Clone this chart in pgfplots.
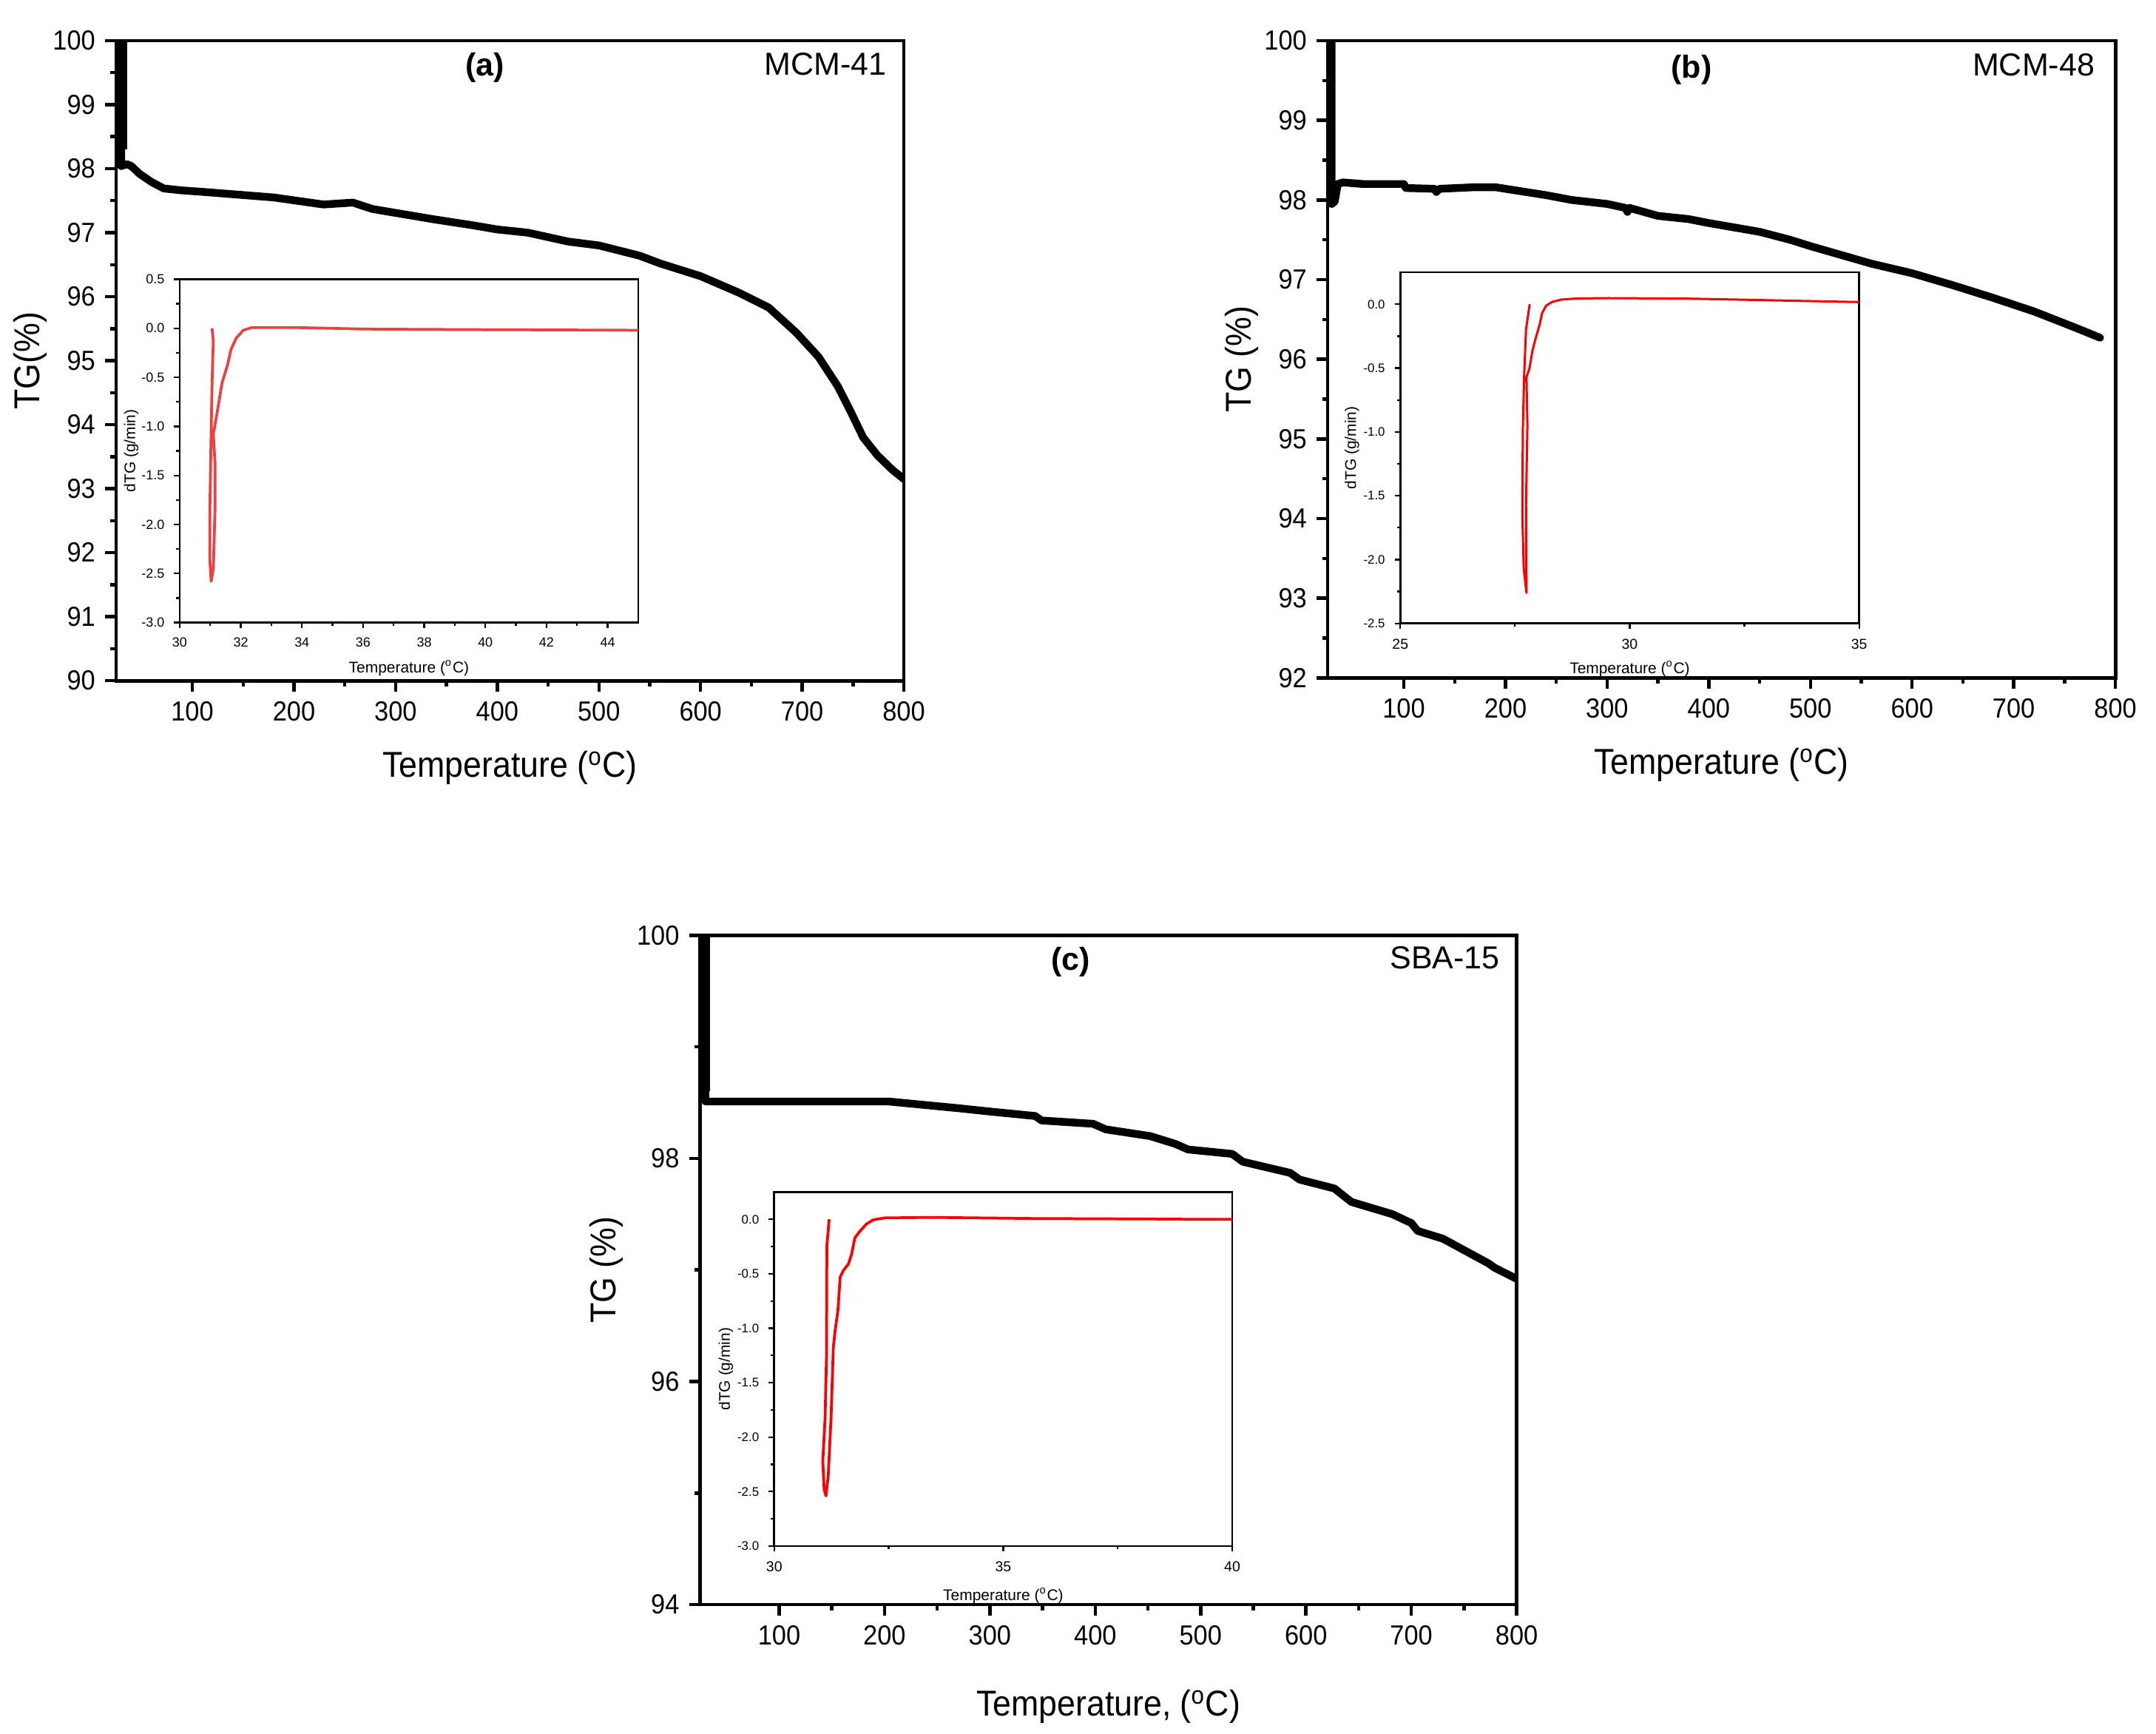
\documentclass[border=0pt]{standalone}
\usepackage{fontspec}
\setmainfont{Liberation Sans}
\newfontfamily\narrowsans{Liberation Sans}[FakeStretch=0.92]
\usepackage{pgfplots}
\pgfplotsset{compat=1.18}
\definecolor{redA}{RGB}{238,64,64}

\pgfplotsset{
  mainax/.style={
    scale only axis, anchor=north west,
    xmin=25, xmax=800, xtick={100,200,...,800},
    minor x tick num=1, minor y tick num=1,
    tick pos=left, tick align=outside,
    major tick length=4pt, minor tick length=2pt,
    axis line style={line width=1.3pt},
    every tick/.style={black, line width=1.2pt},
    ticklabel style={font=\fontsize{10}{12}\narrowsans},
    /pgf/number format/assume math mode=true,
    label style={font=\fontsize{13}{15}\narrowsans},
    xlabel style={at={([yshift=-31.5pt]axis description cs:0.5,0)}, anchor=center},
    ylabel style={at={([xshift=-31pt]axis description cs:0,0.5)}, anchor=center},
  },
  insax/.style={
    scale only axis, anchor=north west,
    tick pos=left, tick align=outside,
    major tick length=2pt, minor tick length=1.2pt,
    axis line style={line width=0.7pt},
    every tick/.style={black, line width=0.6pt},
    ticklabel style={font=\fontsize{4.8}{5.5}\selectfont},
    /pgf/number format/assume math mode=true,
    yticklabel style={/pgf/number format/fixed, /pgf/number format/fixed zerofill, /pgf/number format/precision=1},
    label style={font=\fontsize{5.6}{6.5}\selectfont},
    xlabel style={at={([yshift=-16.5pt]axis description cs:0.5,0)}, anchor=center},
    ylabel style={at={([xshift=-17.5pt]axis description cs:0,0.5)}, anchor=center},
    axis background/.style={fill=white},
  },
  tgline/.style={black, line width=2.8pt, line join=round, line cap=round},
}

\begin{document}
\begin{tikzpicture}
\path[use as bounding box] (0,0) rectangle (780pt,-627pt);

% ---------------- (a) MCM-41 ----------------
\begin{axis}[mainax, at={(42pt,-14.7pt)}, width=285pt, height=231.5pt,
  ymin=90, ymax=100, ytick={90,91,...,100},
  xlabel={Temperature (\textsuperscript{o}C)}, ylabel={TG(\%)}]
\addplot[black, line width=4.5pt] coordinates {(30,100.5) (30,98.3)};
\addplot[tgline] coordinates {
(30,100.5) (30,98.04) (35.6,98.07) (40,98.04) (48,97.92) (60,97.79) (72,97.69)
(90,97.66) (108,97.64) (140,97.6) (180,97.55) (229,97.44) (258,97.47) (277,97.37)
(337,97.21) (374,97.12) (400,97.05) (430,97.0) (470,96.86) (500,96.8) (540,96.64)
(560,96.52) (600,96.32) (638,96.06) (667,95.83) (694,95.44) (716,95.06) (735,94.6)
(747.5,94.21) (760,93.8) (774,93.52) (789,93.29) (798.5,93.17) (800,93.15)};
\node[font=\fontsize{11.5}{13}\selectfont\bfseries] at (rel axis cs:0.468,0.958) {(a)};
\node[anchor=east, font=\fontsize{11.5}{13}\selectfont] at (rel axis cs:0.99,0.963) {MCM-41};
\end{axis}

\begin{axis}[insax, at={(65pt,-101pt)}, width=165.9pt, height=124.2pt,
  xmin=30, xmax=45, xtick={30,32,...,44}, minor x tick num=1,
  ymin=-3, ymax=0.5, ytick={-3,-2.5,...,0.5}, minor y tick num=1,
  xlabel={Temperature (\textsuperscript{o}C)}, ylabel={dTG (g/min)}]
\addplot[redA, line width=1pt, line join=round] coordinates {
(31.06,0.0) (31.1,-0.13) (31.06,-0.55) (31.02,-1.25) (30.99,-1.81) (30.99,-2.37)
(31.03,-2.58) (31.1,-2.45) (31.16,-1.81) (31.16,-1.39) (31.1,-1.08) (31.21,-0.89)
(31.39,-0.55) (31.56,-0.38) (31.68,-0.215) (31.85,-0.10) (32.08,-0.02) (32.37,0.008)
(33.76,0.008) (36.07,-0.008) (39.88,-0.014) (45,-0.02)};
\end{axis}

% ---------------- (b) MCM-48 ----------------
\begin{axis}[mainax, at={(480.3pt,-14.7pt)}, width=285pt, height=230.5pt,
  ymin=92, ymax=100, ytick={92,93,...,100},
  xlabel={Temperature (\textsuperscript{o}C)}, ylabel={TG (\%)}]
\addplot[tgline] coordinates {
(29,100.5) (29,97.95) (32,97.98) (35,98.2) (40,98.22) (60,98.2) (100,98.2) (102,98.15)
(130,98.14) (132,98.1) (135,98.14) (170,98.16) (190,98.16) (220,98.1) (240,98.06)
(265,98.0) (300,97.95) (318,97.9) (320,97.85) (322,97.9) (350,97.8) (380,97.76)
(400,97.71) (450,97.6) (480,97.5) (500,97.42) (530,97.31) (560,97.2) (600,97.08)
(640,96.93) (680,96.77) (720,96.6) (750,96.45) (760,96.4) (785,96.27)};
\node[font=\fontsize{11.5}{13}\selectfont\bfseries] at (rel axis cs:0.462,0.954) {(b)};
\node[anchor=east, font=\fontsize{11.5}{13}\selectfont] at (rel axis cs:0.986,0.962) {MCM-48};
\end{axis}

\begin{axis}[insax, at={(506.6pt,-98.5pt)}, width=166pt, height=127pt,
  xmin=25, xmax=35, xtick={25,30,35}, minor x tick num=1,
  ymin=-2.5, ymax=0.25, ytick={-2.5,-2,...,0}, minor y tick num=1,
  xticklabel style={font=\fontsize{5.2}{6}\selectfont},
  yticklabel style={font=\fontsize{4.5}{5.5}\selectfont},
  xlabel={Temperature (\textsuperscript{o}C)}, ylabel={dTG (g/min)}]
\addplot[red, line width=0.8pt, line join=round] coordinates {
(27.82,0.0) (27.74,-0.197) (27.70,-0.55) (27.67,-0.985) (27.66,-1.65) (27.69,-2.07)
(27.75,-2.26) (27.74,-1.57) (27.77,-0.95) (27.75,-0.57) (27.81,-0.51) (27.88,-0.365)
(27.94,-0.28) (28.04,-0.155) (28.09,-0.07) (28.18,-0.01) (28.32,0.02) (28.52,0.037)
(28.86,0.045) (29.54,0.048) (31.25,0.044) (32.27,0.037) (33.63,0.027) (35.0,0.017)};
\end{axis}

% ---------------- (c) SBA-15 ----------------
\begin{axis}[mainax, at={(253.3pt,-338.3pt)}, width=295.4pt, height=242.1pt,
  ymin=94, ymax=100, ytick={94,96,98,100},
  xlabel={Temperature, (\textsuperscript{o}C)}, ylabel={TG (\%)},
  xlabel style={at={([yshift=-37pt]axis description cs:0.5,0)}, anchor=center},
  ylabel style={at={([xshift=-34pt]axis description cs:0,0.5)}, anchor=center}]
\addplot[black, line width=3.5pt] coordinates {(30,100.5) (30,98.6)};
\addplot[tgline] coordinates {
(30,100.5) (30,98.51) (204,98.51) (237,98.48) (270,98.45) (300,98.42) (343,98.38)
(349,98.34) (398,98.31) (410,98.26) (452,98.2) (476,98.13) (488,98.08) (530,98.04)
(540,97.97) (585,97.87) (594,97.81) (627,97.73) (643,97.61) (682,97.5) (700,97.42)
(706,97.35) (730,97.28) (773,97.06) (779,97.02) (800,96.92)};
\node[font=\fontsize{11.5}{13}\selectfont\bfseries] at (rel axis cs:0.454,0.96) {(c)};
\node[anchor=east, font=\fontsize{11.5}{13}\selectfont] at (rel axis cs:0.991,0.966) {SBA-15};
\end{axis}

\begin{axis}[insax, at={(280.1pt,-431.2pt)}, width=165.7pt, height=128pt,
  xmin=30, xmax=40, xtick={30,35,40}, minor x tick num=1,
  ymin=-3, ymax=0.25, ytick={-3,-2.5,...,0}, minor y tick num=1,
  xticklabel style={font=\fontsize{5.2}{6}\selectfont},
  yticklabel style={font=\fontsize{4.5}{5.5}\selectfont},
  xlabel={Temperature (\textsuperscript{o}C)}, ylabel={dTG (g/min)},
  xlabel style={at={([yshift=-18pt]axis description cs:0.5,0)}, anchor=center}]
\addplot[red, line width=1pt, line join=round] coordinates {
(31.2,0.0) (31.15,-0.24) (31.14,-1.28) (31.11,-1.83) (31.06,-2.22) (31.09,-2.48)
(31.13,-2.54) (31.18,-2.35) (31.24,-1.83) (31.29,-1.18) (31.33,-1.02) (31.39,-0.84)
(31.44,-0.53) (31.51,-0.47) (31.62,-0.41) (31.69,-0.32) (31.76,-0.17) (31.87,-0.11)
(32.01,-0.044) (32.16,-0.005) (32.41,0.013) (33.42,0.018) (35.58,0.008) (38.25,0.003)
(39.34,0.0) (40,0.0)};
\end{axis}
\end{tikzpicture}
\end{document}
